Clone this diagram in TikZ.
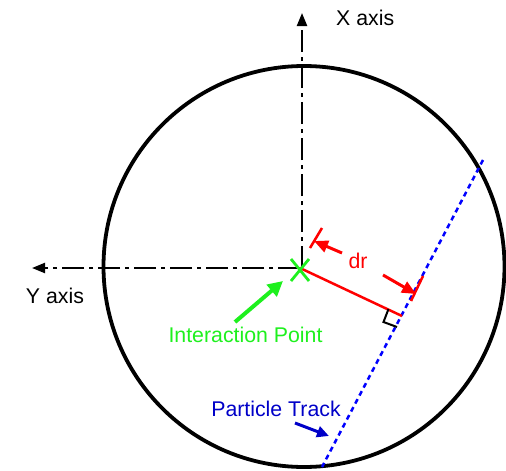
\documentclass[tikz,border=0pt]{standalone}
\usepackage{fontspec}
\setmainfont{Liberation Sans}
\usetikzlibrary{arrows.meta}
\definecolor{ipgreen}{RGB}{30,240,30}
\definecolor{trackblue}{RGB}{0,0,255}
\definecolor{labelblue}{RGB}{0,0,200}
\definecolor{drred}{RGB}{255,0,0}
\begin{document}
\begin{tikzpicture}[x=1pt,y=-1pt,
  lbl/.style={inner sep=0pt,font=\fontsize{21.3}{25}\selectfont},
  axisline/.style={line width=2.2pt,dash pattern=on 22pt off 5pt on 4pt off 5pt,-{Triangle[length=13pt,width=10pt]}},
  ptr/.style={line width=3pt,-{Triangle[length=14pt,width=12pt]}}]
\useasboundingbox (0,0) rectangle (506,471);
% coordinates
\coordinate (C) at (304,266.5);
\coordinate (IP) at (300,268);
\coordinate (Xtip) at (302,13);
\coordinate (Ytip) at (32,268);
\coordinate (T1) at (483,160);
\coordinate (T2) at (322,467);
\coordinate (R) at (402,316);
% circle
\draw[line width=3.8pt] (C) circle[radius=200.5];
% axes
\draw[axisline] (302,268) -- (Xtip);
\draw[axisline] (300,268) -- (Ytip);
% track
\draw[trackblue,line width=2.5pt,dash pattern=on 5pt off 4pt] (T1) -- (T2);
% red dr line
\draw[drred,line width=2.5pt] (IP) -- (R);
% right-angle marker
\draw[line width=2pt] (388.5,309) -- (383.5,322) -- (397,327);
% dimension ticks
\coordinate (K1a) at (310,248);
\coordinate (K1b) at (322,228);
\coordinate (K2a) at (411,301);
\coordinate (K2b) at (423,276);
\draw[drred,line width=2.5pt] (K1a) -- (K1b);
\draw[drred,line width=2.5pt] (K2a) -- (K2b);
\draw[drred,ptr] (342,253) -- (314,241);
\draw[drred,ptr] (383,275) -- (416,294);
\node[lbl,text=drred,anchor=base] (dr) at (358,268) {dr};
% interaction point mark
\draw[ipgreen,line width=2.8pt] (291,259) -- (309,281) (309,259) -- (291,281);
\draw[ipgreen,line width=4pt,-{Triangle[length=15pt,width=15pt]}] (235,322) -- (283,281);
\node[lbl,text=ipgreen,anchor=base] (iplabel) at (245.5,342) {Interaction Point};
% labels
\node[lbl,anchor=base west] (xlabel) at (336,25) {X axis};
\node[lbl,anchor=base] (ylabel) at (55,303) {Y axis};
\node[lbl,text=labelblue,anchor=base] (ptlabel) at (276,416.5) {Particle Track};
\draw[labelblue,line width=3pt,-{Triangle[length=12pt,width=11pt]}] (295,423) -- (329,436);
\end{tikzpicture}
\end{document}
